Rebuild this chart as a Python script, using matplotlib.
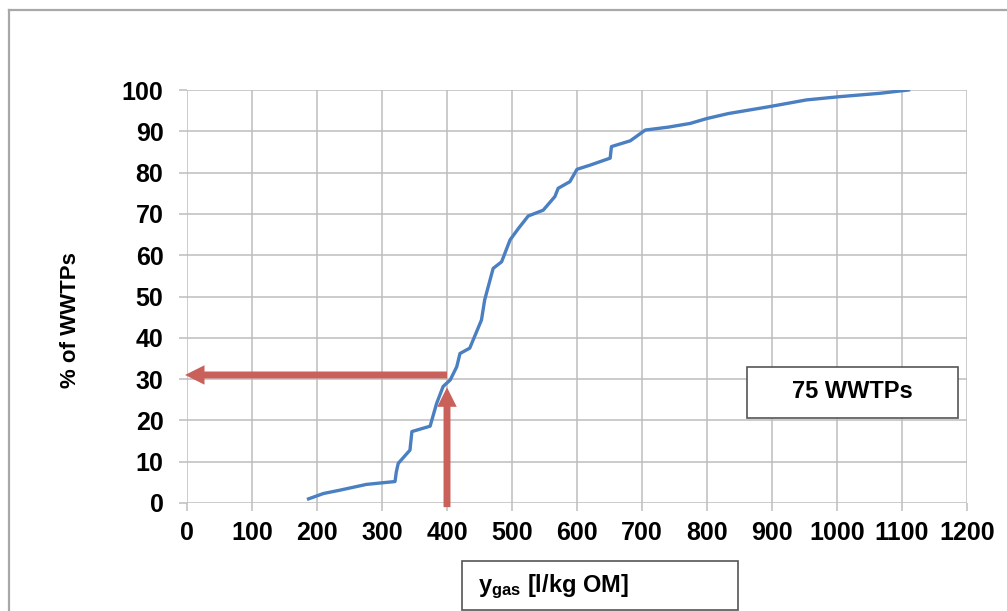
import matplotlib
matplotlib.use('Agg')
import matplotlib.pyplot as plt
from matplotlib.patches import Rectangle
from matplotlib.lines import Line2D

plt.rcParams['font.family'] = ['Liberation Sans', 'DejaVu Sans']
plt.rcParams['mathtext.fontset'] = 'custom'
plt.rcParams['mathtext.bf'] = 'Liberation Sans:bold'
plt.rcParams['mathtext.rm'] = 'Liberation Sans'

# cumulative distribution
ygas = [187, 210, 235, 276, 320, 322, 325, 343, 346, 374, 384, 394, 405, 415,
        420, 435, 453, 458, 471, 484, 497, 510, 525, 548, 566, 571, 589, 600,
        620, 651, 653, 682, 705, 740, 774, 800, 833, 897, 953, 1005, 1066, 1110]
share = [1.0, 2.3, 3.1, 4.5, 5.2, 7.5, 9.6, 12.8, 17.3, 18.6, 24.1, 28.2, 29.8, 33.0,
         36.2, 37.5, 44.3, 49.2, 56.8, 58.4, 63.7, 66.5, 69.5, 70.9, 74.2, 76.2, 77.8, 80.8,
         81.8, 83.5, 86.3, 87.7, 90.3, 91.0, 91.9, 93.1, 94.3, 96.0, 97.6, 98.4, 99.2, 100.0]

xticks = list(range(0, 1201, 100))
yticks = list(range(0, 101, 10))
read_x = 400
read_y = 31

W, H = 1007, 611
fig = plt.figure(figsize=(W / 100, H / 100), dpi=100, facecolor='white')
ax = fig.add_axes([187 / W, 1 - 503 / H, (967 - 187) / W, (503 - 90) / H])

ax.plot(ygas, share, color='#4a7fc1', lw=2.4, solid_joinstyle='round', zorder=4)

red = '#c9605a'
ax.annotate('', xy=(-3, read_y), xytext=(read_x, read_y), annotation_clip=False,
            arrowprops=dict(width=5, headwidth=14, headlength=14, shrink=0,
                            color=red, lw=0), zorder=3)
ax.annotate('', xy=(read_x, 28), xytext=(read_x, -1), annotation_clip=False,
            arrowprops=dict(width=5, headwidth=14, headlength=14, shrink=0,
                            color=red, lw=0), zorder=3)

ax.set_xlim(0, 1200)
ax.set_ylim(0, 100)
ax.set_xticks(xticks)
ax.set_yticks(yticks)
ax.grid(True, color='#bdbdbd', lw=1.1)
ax.set_axisbelow(True)
for s in ax.spines.values():
    s.set_visible(False)
ax.tick_params(axis='both', length=6, color='#bdbdbd', width=1.1,
               labelsize=18, pad=7)
ax.tick_params(axis='y', pad=11)
for lab in ax.get_xticklabels() + ax.get_yticklabels():
    lab.set_fontweight('bold')

# outer frame
fig.add_artist(Line2D([9 / W, 1], [1 - 10 / H, 1 - 10 / H], color='#a8a8a8', lw=1.6))
fig.add_artist(Line2D([9 / W, 9 / W], [0, 1 - 10 / H], color='#a8a8a8', lw=1.6))

fig.text(70 / W, 1 - 320 / H, '% of WWTPs', rotation=90, ha='center', va='center',
         fontsize=16, fontweight='bold')

# annotation box
fig.add_artist(Rectangle((747 / W, 1 - 418 / H), (958 - 747) / W, (418 - 367) / H,
                         transform=fig.transFigure, facecolor='white',
                         edgecolor='#555555', lw=1.2, zorder=5))
fig.text(852 / W, 1 - 392 / H, '75 WWTPs', ha='center', va='center',
         fontsize=17, fontweight='bold', zorder=6)

# x label box
fig.add_artist(Rectangle((462 / W, 1 - 610 / H), (738 - 462) / W, (610 - 561) / H,
                         transform=fig.transFigure, facecolor='white',
                         edgecolor='#555555', lw=1.2, zorder=5))
fig.text(478 / W, 1 - 587 / H, r'$\mathbf{y_{gas}}$ [l/kg OM]', ha='left', va='center',
         fontsize=17, fontweight='bold', zorder=6)

fig.savefig('out.png', dpi=100)
